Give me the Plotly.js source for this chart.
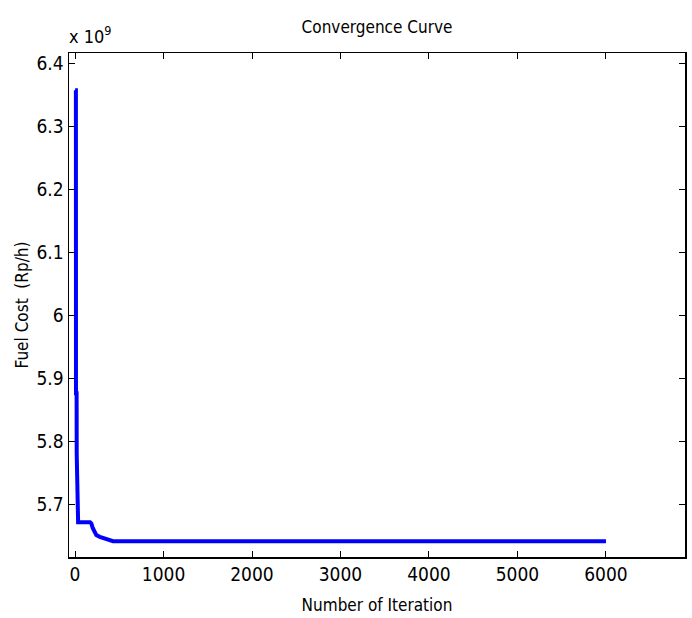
<!DOCTYPE html>
<html>
<head>
<meta charset="utf-8">
<script src="https://cdn.plot.ly/plotly-3.0.1.min.js"></script>
<style>
  html, body { margin: 0; padding: 0; background: #fff; }
  #chart { width: 692px; height: 618px; }
</style>
</head>
<body>
<div id="chart"></div>
<script>
// Iteration numbers (x) and best fuel cost in units of 1e9 Rp/h (y)
const iterations = [1, 10, 11, 18, 19, 28, 35, 170, 185, 200, 220, 240, 280, 320, 360, 430, 1000, 2000, 3000, 4000, 5000, 6000];
const fuelCost   = [6.357, 6.357, 5.876, 5.876, 5.780, 5.720, 5.671, 5.671, 5.669, 5.662, 5.655, 5.651, 5.648, 5.646, 5.644, 5.641, 5.641, 5.641, 5.641, 5.641, 5.641, 5.641];
const xTicks = [0, 1000, 2000, 3000, 4000, 5000, 6000];
const yTicks = [5.7, 5.8, 5.9, 6.0, 6.1, 6.2, 6.3, 6.4];
const yTickText = ['5.7', '5.8', '5.9', '6', '6.1', '6.2', '6.3', '6.4'];

const FONT = '"DejaVu Sans Condensed", "Liberation Sans Narrow", sans-serif';

const trace = {
  x: iterations,
  y: fuelCost,
  type: 'scatter',
  mode: 'lines',
  line: { color: '#0000ff', width: 4, shape: 'linear' },
  hoverinfo: 'skip'
};

const axisCommon = {
  showgrid: false,
  zeroline: false,
  showline: true,
  linecolor: '#000',
  linewidth: 1.5,
  mirror: 'ticks',
  ticks: 'inside',
  ticklen: 6,
  tickwidth: 1,
  tickcolor: '#000',
  tickfont: { family: FONT, size: 19, color: '#000' }
};

const layout = {
  width: 692,
  height: 618,
  paper_bgcolor: '#fff',
  plot_bgcolor: '#fff',
  showlegend: false,
  margin: { l: 69, r: 7, t: 53, b: 61 },
  title: {
    text: 'Convergence Curve',
    font: { family: FONT, size: 17, color: '#000' },
    x: 0.5, xref: 'paper', xanchor: 'center',
    y: 1, yref: 'container', yanchor: 'top', pad: { t: 21 }
  },
  xaxis: Object.assign({}, axisCommon, {
    range: [-68, 6893],
    tickvals: xTicks,
    ticktext: xTicks.map(String),
    title: { text: 'Number of Iteration', font: { family: FONT, size: 17, color: '#000' }, standoff: 15 }
  }),
  yaxis: Object.assign({}, axisCommon, {
    range: [5.616, 6.416],
    tickvals: yTicks,
    ticktext: yTickText,
    title: { text: 'Fuel Cost  (Rp/h)', font: { family: FONT, size: 17, color: '#000' }, standoff: 3 }
  }),
  annotations: [{
    xref: 'paper', yref: 'paper',
    x: 0, y: 1, xanchor: 'left', yanchor: 'bottom',
    yshift: 4, xshift: -2,
    showarrow: false,
    text: 'x 10<sup>9</sup>',
    font: { family: FONT, size: 18, color: '#000' }
  }]
};

Plotly.newPlot('chart', [trace], layout, { staticPlot: true, displayModeBar: false });
</script>
</body>
</html>
